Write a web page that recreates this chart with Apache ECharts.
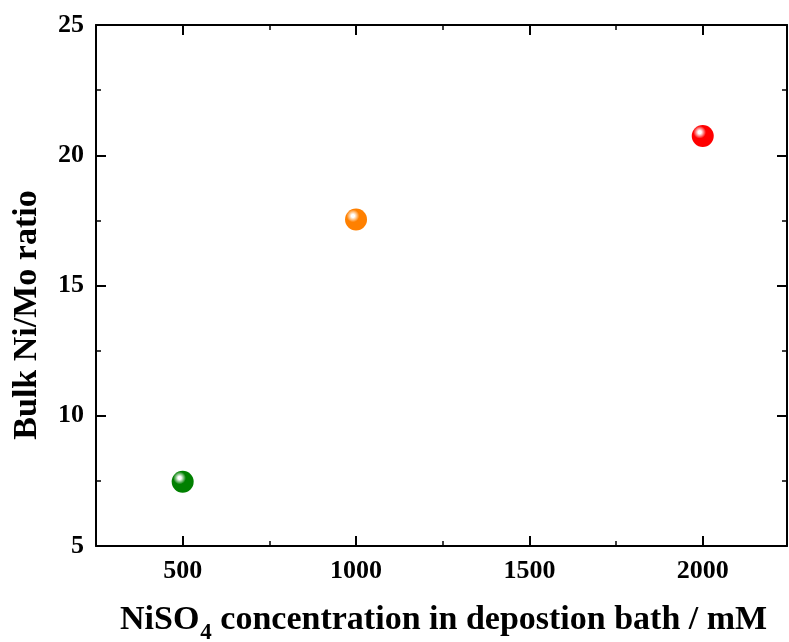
<!DOCTYPE html>
<html>
<head>
<meta charset="utf-8">
<script src="https://cdn.jsdelivr.net/npm/echarts@6/dist/echarts.min.js"></script>
<style>
html,body{margin:0;padding:0;background:#fff;}
#chart{width:789px;height:642px;}
</style>
</head>
<body>
<div id="chart"></div>
<script>
// Data
const concentrations = [500, 1000, 2000];
const niMoRatio = [7.47, 17.53, 20.74];
const pointColors = ['#008000', '#ff8000', '#ff0000'];
const xTicks = [500, 1000, 1500, 2000];
const xMinorTicks = [750, 1250, 1750];
const yTicks = [5, 10, 15, 20, 25];

const FONT = "'Liberation Serif','Times New Roman',serif";
const X_MIN = 250, X_MAX = 2243;

function sphere(c) {
  return {
    type: 'radial', x: 0.36, y: 0.33, r: 0.72,
    colorStops: [
      {offset: 0, color: '#ffffff'},
      {offset: 0.1, color: '#ffffff'},
      {offset: 0.4, color: c},
      {offset: 1, color: c}
    ]
  };
}

const chart = echarts.init(document.getElementById('chart'), null, {renderer: 'canvas'});

const axisLine = {show: true, onZero: false, lineStyle: {color: '#000', width: 2}};
const tickBase = {show: true, inside: true, length: 10, lineStyle: {color: '#000', width: 2}};
const minorBase = {show: true, splitNumber: 2, length: 5, lineStyle: {color: '#000', width: 1.5}};
const labelStyle = {color: '#000', fontFamily: FONT, fontWeight: 'bold', fontSize: 26};

function xAxisDef(pos, values, len, showLine, showLabel) {
  return {
    type: 'value', min: X_MIN, max: X_MAX, position: pos,
    axisLine: showLine ? axisLine : {show: false, onZero: false},
    axisTick: {show: true, inside: true, length: len, customValues: values,
               lineStyle: {color: '#000', width: len > 6 ? 2 : 1.5}},
    splitLine: {show: false},
    axisLabel: showLabel
      ? Object.assign({}, labelStyle, {margin: 12, customValues: values,
          formatter: v => String(v)})
      : {show: false}
  };
}

chart.setOption({
  animation: false,
  backgroundColor: '#fff',
  grid: {left: 96, right: 2, top: 25, bottom: 96, containLabel: false},
  xAxis: [
    xAxisDef('bottom', xTicks, 10, true, true),
    xAxisDef('top', xTicks, 10, true, false),
    xAxisDef('bottom', xMinorTicks, 5, false, false),
    xAxisDef('top', xMinorTicks, 5, false, false)
  ],
  yAxis: [
    {type: 'value', min: 5, max: 25, interval: 5, position: 'left',
     axisLine: axisLine,
     axisTick: tickBase,
     minorTick: minorBase,
     splitLine: {show: false},
     axisLabel: Object.assign({}, labelStyle, {margin: 12,
       formatter: v => yTicks.includes(v) ? String(v) : ''})},
    {type: 'value', min: 5, max: 25, interval: 5, position: 'right',
     axisLine: axisLine,
     axisTick: tickBase,
     minorTick: minorBase,
     splitLine: {show: false},
     axisLabel: {show: false}}
  ],
  series: [{
    type: 'scatter',
    xAxisIndex: 0, yAxisIndex: 0,
    symbol: 'circle',
    symbolSize: 22,
    data: concentrations.map((x, i) => ({
      value: [x, niMoRatio[i]],
      itemStyle: {color: sphere(pointColors[i]), opacity: 1}
    }))
  }],
  graphic: [
    {type: 'text', left: 120, top: 603,
     style: {
       text: '{a|NiSO}{s|4}{a| concentration in depostion bath / mM}',
       rich: {
         a: {fontFamily: FONT, fontWeight: 'bold', fontSize: 34, fill: '#000'},
         s: {fontFamily: FONT, fontWeight: 'bold', fontSize: 23, fill: '#000', padding: [26, 0, 0, 1]}
       }
     }},
    {type: 'text', x: 10, y: 315, rotation: Math.PI / 2,
     style: {
       text: 'Bulk Ni/Mo ratio',
       fontFamily: FONT, fontWeight: 'bold', fontSize: 34, fill: '#000',
       align: 'center', verticalAlign: 'top'
     }}
  ]
});
</script>
</body>
</html>
